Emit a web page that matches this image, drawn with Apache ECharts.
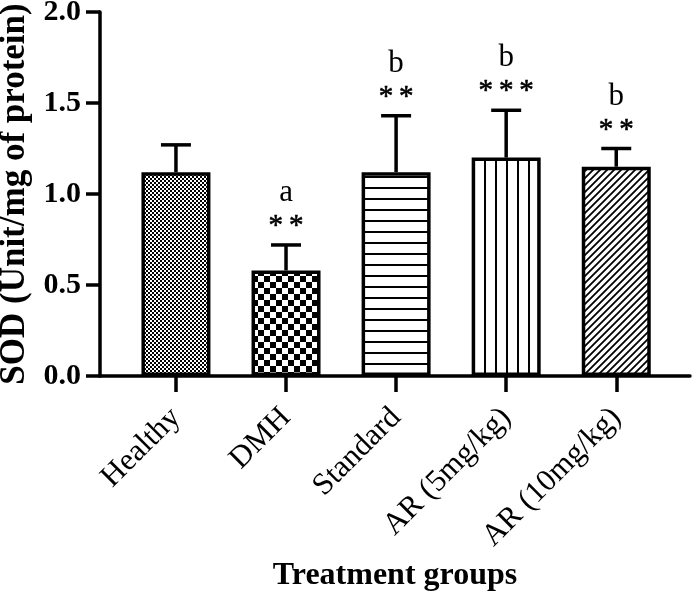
<!DOCTYPE html>
<html>
<head>
<meta charset="utf-8">
<title>SOD</title>
<script src="https://cdn.jsdelivr.net/npm/echarts@6.0.0/dist/echarts.min.js"></script>
<style>
    html, body { margin: 0; padding: 0; background: #fff; }
    #main { width: 693px; height: 593px; }
</style>
</head>
<body>
<div id="main"></div>
<script>
var groups = ['Healthy', 'DMH', 'Standard', 'AR (5mg/kg)', 'AR (10mg/kg)'];
var means = [1.12, 0.58, 1.12, 1.20, 1.15];
var sds = [0.15, 0.14, 0.31, 0.26, 0.10];
var stars = ['', '*\u2009*', '*\u2009*', '*\u2009*\u2009*', '*\u2009*'];
var letters = ['', 'a', 'b', 'b', 'b'];

var FONT = '"Liberation Serif", "Times New Roman", serif';

// fill patterns, one per bar
function makePattern(w, h, draw) {
    var c = document.createElement('canvas');
    c.width = w;
    c.height = h;
    var ctx = c.getContext('2d');
    ctx.fillStyle = '#fff';
    ctx.fillRect(0, 0, w, h);
    ctx.fillStyle = '#000';
    ctx.strokeStyle = '#000';
    draw(ctx);
    return { image: c, repeat: 'repeat' };
}
var patterns = [
    // fine checker
    makePattern(4, 4, function (ctx) {
        ctx.fillRect(0, 0, 2, 2);
        ctx.fillRect(2, 2, 2, 2);
    }),
    // coarse checker
    makePattern(12, 12, function (ctx) {
        ctx.fillRect(0, 0, 6, 6);
        ctx.fillRect(6, 6, 6, 6);
    }),
    // horizontal lines
    makePattern(11, 11, function (ctx) {
        ctx.fillRect(0, 0, 11, 2);
    }),
    // vertical lines
    makePattern(11, 11, function (ctx) {
        ctx.fillRect(0, 0, 2, 11);
    }),
    // diagonal hatch
    makePattern(7, 7, function (ctx) {
        ctx.lineWidth = 1.8;
        ctx.beginPath();
        ctx.moveTo(-1, 1); ctx.lineTo(1, -1);
        ctx.moveTo(0, 7); ctx.lineTo(7, 0);
        ctx.moveTo(6, 8); ctx.lineTo(8, 6);
        ctx.stroke();
    })
];

var barData = means.map(function (m, i) {
    return {
        value: [i, m],
        itemStyle: { color: patterns[i] }
    };
});
var errData = means.map(function (m, i) {
    return [i, m, m + sds[i]];
});

var mychart = echarts.init(document.getElementById('main'));
var option = {
    animation: false,
    grid: {
        left: 100,
        right: 3,
        top: 12,
        bottom: 217,
        outerBoundsMode: 'none'
    },
    xAxis: {
        type: 'value',
        min: -0.69,
        max: 4.67,
        splitLine: { show: false },
        name: 'Treatment groups',
        nameLocation: 'middle',
        nameGap: 184,
        nameTextStyle: {
            fontFamily: FONT,
            fontWeight: 'bold',
            fontSize: 32,
            color: '#000'
        },
        axisLine: {
            onZero: false,
            lineStyle: { color: '#000', width: 3.5 }
        },
        axisTick: {
            customValues: [0, 1, 2, 3, 4],
            length: 16,
            lineStyle: { color: '#000', width: 3.5 }
        },
        axisLabel: {
            customValues: [0, 1, 2, 3, 4],
            rotate: 45,
            margin: 37,
            fontFamily: FONT,
            fontSize: 31,
            color: '#000',
            formatter: function (v) {
                return groups[Math.round(v)];
            }
        }
    },
    yAxis: {
        type: 'value',
        min: 0,
        max: 2,
        interval: 0.5,
        splitLine: { show: false },
        name: 'SOD (Unit/mg of protein)',
        nameLocation: 'middle',
        nameGap: 65,
        nameTextStyle: {
            fontFamily: FONT,
            fontWeight: 'bold',
            fontSize: 35,
            color: '#000'
        },
        axisLine: {
            show: true,
            onZero: false,
            lineStyle: { color: '#000', width: 3.5 }
        },
        axisTick: {
            show: true,
            length: 14,
            lineStyle: { color: '#000', width: 3.5 }
        },
        axisLabel: {
            margin: 19,
            fontFamily: FONT,
            fontWeight: 'bold',
            fontSize: 30,
            color: '#000',
            formatter: function (v) {
                return v.toFixed(1);
            }
        }
    },
    series: [
        {
            name: 'mean',
            type: 'bar',
            barWidth: 69,
            data: barData,
            itemStyle: {
                borderColor: '#000',
                borderWidth: 3.5
            },
            z: 2
        },
        {
            name: 'sd',
            type: 'custom',
            data: errData,
            z: 3,
            renderItem: function (params, api) {
                var i = params.dataIndex;
                var p0 = api.coord([api.value(0), api.value(1)]);
                var p1 = api.coord([api.value(0), api.value(2)]);
                var lineStyle = { stroke: '#000', lineWidth: 3.5 };
                return {
                    type: 'group',
                    children: [
                        {
                            type: 'line',
                            shape: { x1: p0[0], y1: p0[1], x2: p1[0], y2: p1[1] },
                            style: lineStyle
                        },
                        {
                            type: 'line',
                            shape: { x1: p1[0] - 15, y1: p1[1], x2: p1[0] + 15, y2: p1[1] },
                            style: lineStyle
                        },
                        {
                            type: 'text',
                            x: p1[0],
                            y: p1[1] - 4,
                            style: {
                                text: stars[i],
                                font: '29px ' + FONT,
                                fill: '#000',
                                stroke: '#000',
                                lineWidth: 0.6,
                                align: 'center',
                                verticalAlign: 'bottom'
                            }
                        },
                        {
                            type: 'text',
                            x: p1[0],
                            y: p1[1] - 52,
                            style: {
                                text: letters[i],
                                font: '31px ' + FONT,
                                fill: '#000',
                                align: 'center',
                                verticalAlign: 'middle'
                            }
                        }
                    ]
                };
            }
        }
    ]
};
mychart.setOption(option);
window.addEventListener('resize', function () {
    mychart.resize();
});
</script>
</body>
</html>
